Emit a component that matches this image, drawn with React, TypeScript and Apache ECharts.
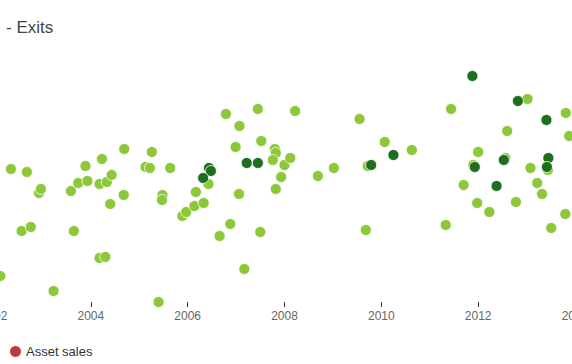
import React, { useEffect, useRef } from "react";
import * as echarts from "echarts";

const title = "- Exits";
const xTicks = [2002, 2004, 2006, 2008, 2010, 2012, 2014];
const legendNames = ["Asset sales"];

// light-green exits: year (fractional) and value
const lightYears = [
  2002.13, 2002.35, 2002.68, 2002.57, 2002.76, 2002.93, 2002.97, 2003.23, 2003.59, 2003.65,
  2003.74, 2003.89, 2003.93, 2004.18, 2004.18, 2004.3, 2004.23, 2004.33, 2004.43, 2004.4,
  2004.69, 2004.68, 2005.13, 2005.22, 2005.26, 2005.4, 2005.48, 2005.47, 2005.64, 2005.89,
  2005.97, 2006.14, 2006.17, 2006.33, 2006.43, 2006.66, 2006.79, 2006.88, 2006.99, 2007.07,
  2007.06, 2007.17, 2007.45, 2007.52, 2007.5, 2007.8, 2007.82, 2007.76, 2008.0, 2007.93,
  2007.82, 2008.12, 2008.22, 2008.69, 2009.02, 2009.55, 2009.68, 2009.72, 2010.07, 2010.63,
  2011.33, 2011.44, 2011.7, 2011.9, 2012.0, 2011.98, 2012.23, 2012.56, 2012.6, 2012.78,
  2013.02, 2013.08, 2013.22, 2013.32, 2013.44, 2013.51, 2013.8, 2013.81, 2013.88,
];
const lightValues = [
  26, 133, 130, 71, 75, 109, 113, 11, 111, 71,
  119, 136, 121, 118, 44, 45, 143, 120, 127, 98,
  153, 107, 135, 134, 150, 0, 107, 102, 134, 86,
  90, 96, 110, 99, 118, 66, 188, 78, 155, 176,
  108, 33, 193, 161, 70, 153, 149, 142, 137, 125,
  113, 144, 191, 126, 134, 183, 72, 136, 160, 152,
  77, 193, 117, 137, 150, 99, 90, 144, 171, 100,
  203, 134, 119, 108, 132, 74, 88, 189, 166,
];

// dark-green exits
const darkYears = [
  2006.44, 2006.48, 2006.32, 2007.22, 2007.45, 2009.79, 2010.25, 2011.88, 2011.93, 2012.38,
  2012.53, 2012.82, 2013.41, 2013.45, 2013.42,
];
const darkValues = [
  134, 131, 124, 139, 139, 137, 147, 226, 135, 116,
  142, 201, 182, 144, 135,
];

const LIGHT = "#8cc83a";
const DARK = "#1f6e1f";
const RED = "#c0393b";

export default function App() {
  const ref = useRef<HTMLDivElement>(null);
  useEffect(() => {
    if (!ref.current) return;
    const chart = echarts.init(ref.current, undefined, { renderer: "svg" });
    const light = lightYears.map((y, i) => [y, lightValues[i]]);
    const dark = darkYears.map((y, i) => [y, darkValues[i]]);
    chart.setOption({
      animation: false,
      backgroundColor: "#ffffff",
      title: {
        text: title,
        left: 1,
        top: 14,
        textStyle: { fontFamily: "Liberation Sans, Arial, sans-serif", fontSize: 17, fontWeight: "normal", color: "#444" },
      },
      legend: {
        data: legendNames.map((n) => ({ name: n, itemStyle: { color: RED, opacity: 1 } })),
        left: 5,
        top: 340,
        icon: "circle",
        itemWidth: 11,
        itemHeight: 11,
        textStyle: { fontFamily: "Liberation Sans, Arial, sans-serif", fontSize: 13, color: "#333" },
      },
      grid: { left: -6, right: -3, top: 62, bottom: 62, containLabel: false, outerBoundsMode: "none" },
      xAxis: {
        type: "value",
        min: xTicks[0],
        max: xTicks[xTicks.length - 1],
        interval: 2,
        axisLine: { show: false },
        axisTick: { show: true, length: 5, lineStyle: { color: "#333", width: 1 } },
        splitLine: { show: false },
        axisLabel: {
          show: true,
          margin: 8,
          fontFamily: "Liberation Sans, Arial, sans-serif",
          fontSize: 12,
          color: "#666",
          formatter: (v: number) => String(v),
          showMinLabel: true,
          showMaxLabel: true,
          hideOverlap: false,
        },
      },
      yAxis: {
        type: "value",
        min: 0,
        max: 240,
        show: false,
        splitLine: { show: false },
      },
      series: [
        {
          name: "Light",
          type: "scatter",
          data: light,
          symbolSize: 11,
          clip: false,
          itemStyle: { color: LIGHT, borderColor: "#ffffff", borderWidth: 0.8, opacity: 1 },
        },
        {
          name: "Dark",
          type: "scatter",
          data: dark,
          symbolSize: 11,
          clip: false,
          itemStyle: { color: DARK, borderColor: "#ffffff", borderWidth: 0.8, opacity: 1 },
        },
        {
          name: "Asset sales",
          type: "scatter",
          data: [],
          itemStyle: { color: RED, opacity: 1 },
        },
      ],
    });
    return () => chart.dispose();
  }, []);
  return (
    <div
      ref={ref}
      style={{ position: "fixed", left: 0, top: 0, width: 572, height: 364 }}
    />
  );
}
